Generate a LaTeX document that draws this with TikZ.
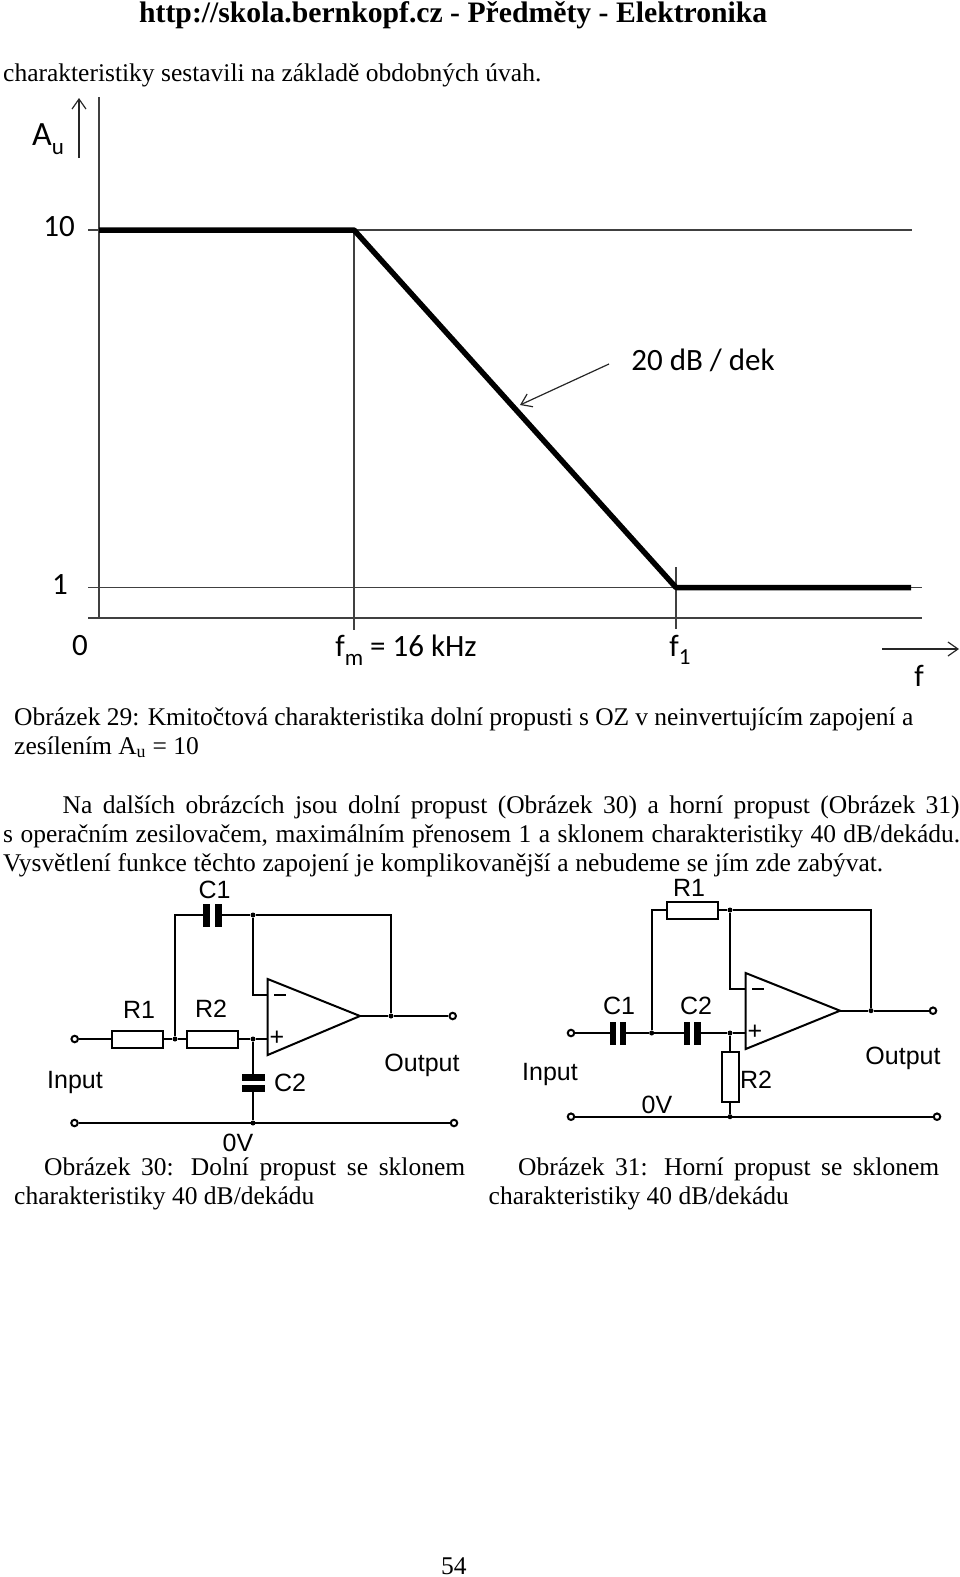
\documentclass[tikz,border=0pt]{standalone}
\usepackage{fontspec}
\usetikzlibrary{arrows.meta}
\setmainfont{Liberation Serif}
\newfontfamily\plotfont{Carlito}
\newfontfamily\circfont{Liberation Sans}
\newcommand{\lowsub}[1]{\raisebox{-0.28em}{\fontsize{23}{24}\selectfont #1}}
\tikzset{
    page/.style={anchor=base west, inner sep=0pt, font=\fontsize{25.5}{29}\selectfont},
    plot/.style={inner sep=0pt, font=\plotfont\fontsize{31}{36}\selectfont},
    circ/.style={inner sep=0pt, font=\circfont\fontsize{25}{28}\selectfont},
    thin line/.style={draw=black!75, line width=1.1pt},
    pointer/.style={black!85, line width=1.2pt, -{Straight Barb[length=10pt,width=14pt]}},
    wire/.style={draw, line width=2pt},
    res/.style={draw, line width=2pt, rectangle, minimum width=51pt, minimum height=17pt, inner sep=0pt, fill=white},
    vres/.style={res, minimum width=17pt, minimum height=50pt},
    plate/.style={fill, rectangle, minimum width=6.5pt, minimum height=23pt, inner sep=0pt},
    hplate/.style={plate, minimum width=23pt, minimum height=7pt},
    term/.style={draw, circle, line width=2pt, minimum size=6.5pt, inner sep=0pt, fill=white},
    junc/.style={fill, circle, minimum size=5pt, inner sep=0pt},
    amp/.style={draw, line width=2pt, line join=miter},
}
\begin{document}
\begin{tikzpicture}[x=1pt, y=-1pt]
    \useasboundingbox (0,0) rectangle (960,1577);
    % page text
    \node[page, font=\bfseries\fontsize{29.7}{32}\selectfont] (head) at (139,22.5) {http://skola.bernkopf.cz - Předměty - Elektronika};
    \node[page] (l1) at (3,81) {charakteristiky sestavili na základě obdobných úvah.};
    \node[page] (cap29a) at (14,725) {\makebox[899pt][s]{Obrázek 29: Kmitočtová charakteristika dolní propusti s OZ v neinvertujícím zapojení a}};
    \node[page] (cap29b) at (14,754) {zesílením A\textsubscript{u} = 10};
    \node[page] (p1) at (62.5,813) {\makebox[897pt][s]{Na dalších obrázcích jsou dolní propust (Obrázek 30) a horní propust (Obrázek 31)}};
    \node[page] (p2) at (3,842) {\makebox[957pt][s]{s operačním zesilovačem, maximálním přenosem 1 a sklonem charakteristiky 40 dB/dekádu.}};
    \node[page] (p3) at (3,871.5) {\makebox[880pt][s]{Vysvětlení funkce těchto zapojení je komplikovanější a nebudeme se jím zde zabývat.}};
    \node[page] (cap30a) at (44,1175) {\makebox[421pt][s]{Obrázek 30: Dolní propust se sklonem}};
    \node[page] (cap30b) at (14,1204) {charakteristiky 40 dB/dekádu};
    \node[page] (cap31a) at (518,1175) {\makebox[421pt][s]{Obrázek 31: Horní propust se sklonem}};
    \node[page] (cap31b) at (488.5,1204) {charakteristiky 40 dB/dekádu};
    \node[page] (pageno) at (441,1574) {54};

    % plot
    \coordinate (ytop) at (99,97);
    \coordinate (ybot) at (99,618);
    \coordinate (hi0) at (88,230);
    \coordinate (hi1) at (912,230);
    \coordinate (lo0) at (88,587.5);
    \coordinate (lo1) at (922,587.5);
    \coordinate (zero0) at (88,618);
    \coordinate (zero1) at (922,618);
    \coordinate (mtop) at (354,230);
    \coordinate (mbot) at (354,630);
    \coordinate (ftop) at (676,567);
    \coordinate (fbot) at (676,629);
    \draw[thin line] (ytop) -- (ybot);
    \draw[thin line] (hi0) -- (hi1);
    \draw[thin line] (lo0) -- (lo1);
    \draw[thin line] (zero0) -- (zero1);
    \draw[thin line] (mtop) -- (mbot);
    \draw[thin line] (ftop) -- (fbot);
    \coordinate (g0) at (99,230);
    \coordinate (g1) at (354,230);
    \coordinate (g2) at (676,587.5);
    \coordinate (g3) at (911,587.5);
    \draw[line width=5.5pt, line join=round] (g0) -- (g1) -- (g2) -- (g3);
    \node[plot, font=\plotfont\fontsize{34}{36}\selectfont] (au) at (48,139) {A\lowsub{u}};
    \node[plot] (ten) at (59,227) {10};
    \node[plot] (one) at (60,585) {1};
    \node[plot] (nul) at (80,646) {0};
    \node[plot] (fm) at (406,650) {f\lowsub{m} = 16 kHz};
    \node[plot] (fone) at (680,650) {f\lowsub{1}};
    \node[plot] (eff) at (919,676) {f};
    \node[plot] (slope) at (703,360) {20 dB / dek};
    \coordinate (aua) at (79,158);
    \coordinate (aub) at (79,98);
    \coordinate (fa) at (882,649);
    \coordinate (fb) at (959,649);
    \coordinate (sa) at (609,364);
    \coordinate (sb) at (520,405);
    \draw[pointer] (aua) -- (aub);
    \draw[pointer] (fa) -- (fb);
    \draw[pointer] (sa) -- (sb);

    % low pass
    \node[term] (ain) at (74.7,1039) {};
    \node[res] (ar1) at (137.5,1039) {};
    \node[junc] (aj1) at (175,1039) {};
    \node[res] (ar2) at (212.5,1039) {};
    \node[junc] (aj2) at (253,1039) {};
    \coordinate (aa) at (267.7,979);
    \coordinate (ab) at (267.7,1055);
    \coordinate (at) at (360,1016);
    \coordinate (aminus) at (267.7,995);
    \coordinate (aplus) at (267.7,1039);
    \node[junc] (aj3) at (253,915) {};
    \coordinate (atl) at (175,915);
    \coordinate (atr) at (391,915);
    \node[junc] (aj4) at (391,1016) {};
    \node[term] (aout) at (452.7,1016) {};
    \node[plate] (ac1a) at (206.5,915) {};
    \node[plate] (ac1b) at (218.5,915) {};
    \node[hplate] (ac2a) at (253,1077.5) {};
    \node[hplate] (ac2b) at (253,1088.5) {};
    \node[junc] (aj5) at (253,1123) {};
    \node[term] (agl) at (74.5,1123) {};
    \node[term] (agr) at (454,1123) {};
    \draw[wire] (ain) -- (ar1);
    \draw[wire] (ar1) -- (aj1);
    \draw[wire] (aj1) -- (ar2);
    \draw[wire] (ar2) -- (aj2);
    \draw[wire] (aj2) -- (aplus);
    \draw[wire] (aj1) -- (atl) -- (ac1a);
    \draw[wire] (ac1b) -- (aj3);
    \draw[wire] (aj3) -- (atr) -- (aj4);
    \draw[wire] (aj3) |- (aminus);
    \draw[wire] (at) -- (aj4);
    \draw[wire] (aj4) -- (aout);
    \draw[wire] (aj2) -- (ac2a);
    \draw[wire] (ac2b) -- (aj5);
    \draw[wire] (agl) -- (agr);
    \draw[amp] (aa) -- (at) -- (ab) -- cycle;
    \node[circ] (amin) at (280,995) {\rule{12pt}{1.5pt}};
    \node[circ] (apl) at (277,1038) {+};
    \node[circ] (alc1) at (214.5,890) {C1};
    \node[circ] (alr1) at (139,1010) {R1};
    \node[circ] (alr2) at (211,1009) {R2};
    \node[circ] (alc2) at (290,1083) {C2};
    \node[circ] (alin) at (75,1082) {Input};
    \node[circ] (alout) at (422,1065) {Output};
    \node[circ] (alv) at (238,1143) {0V};

    % high pass
    \node[term] (bin) at (571,1033) {};
    \node[plate] (bc1a) at (613,1033) {};
    \node[plate] (bc1b) at (623,1033) {};
    \node[junc] (bj1) at (651.7,1033) {};
    \node[plate] (bc2a) at (687,1033) {};
    \node[plate] (bc2b) at (697.5,1033) {};
    \node[junc] (bj2) at (730,1033) {};
    \coordinate (ba) at (745.7,973);
    \coordinate (bb) at (745.7,1049);
    \coordinate (bt) at (840,1010.7);
    \coordinate (bminus) at (745.7,989);
    \coordinate (bplus) at (745.7,1033);
    \node[res] (br1) at (692.5,910) {};
    \coordinate (btl) at (651.7,910);
    \node[junc] (bj3) at (730,910) {};
    \coordinate (btr) at (871,910);
    \node[junc] (bj4) at (871,1010.7) {};
    \node[term] (bout) at (933,1010.7) {};
    \node[vres] (br2) at (730,1077) {};
    \node[junc] (bj5) at (730,1116.7) {};
    \node[term] (bgl) at (571,1116.7) {};
    \node[term] (bgr) at (937,1116.7) {};
    \draw[wire] (bin) -- (bc1a);
    \draw[wire] (bc1b) -- (bj1);
    \draw[wire] (bj1) -- (bc2a);
    \draw[wire] (bc2b) -- (bj2);
    \draw[wire] (bj2) -- (bplus);
    \draw[wire] (bj1) -- (btl) -- (br1);
    \draw[wire] (br1) -- (bj3);
    \draw[wire] (bj3) -- (btr) -- (bj4);
    \draw[wire] (bj3) |- (bminus);
    \draw[wire] (bt) -- (bj4);
    \draw[wire] (bj4) -- (bout);
    \draw[wire] (bj2) -- (br2);
    \draw[wire] (br2) -- (bj5);
    \draw[wire] (bgl) -- (bgr);
    \draw[amp] (ba) -- (bt) -- (bb) -- cycle;
    \node[circ] (bmin) at (758,989) {\rule{12pt}{1.5pt}};
    \node[circ] (bpl) at (755,1032) {+};
    \node[circ] (blr1) at (689,888) {R1};
    \node[circ] (blc1) at (619,1006) {C1};
    \node[circ] (blc2) at (696,1006) {C2};
    \node[circ] (blr2) at (756,1080) {R2};
    \node[circ] (blin) at (550,1074) {Input};
    \node[circ] (blout) at (903,1058) {Output};
    \node[circ] (blv) at (657,1105) {0V};
\end{tikzpicture}
\end{document}
